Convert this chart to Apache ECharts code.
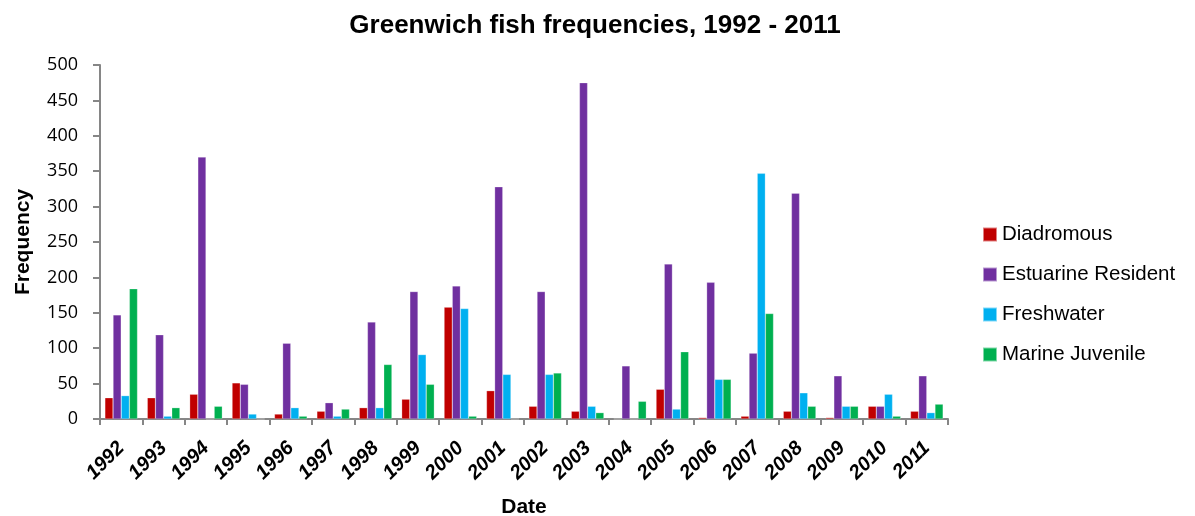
<!DOCTYPE html>
<html>
<head>
<meta charset="utf-8">
<script src="https://cdn.jsdelivr.net/npm/echarts@6/dist/echarts.min.js"></script>
<style>html,body{margin:0;padding:0;background:#fff;}#c{width:1195px;height:516px;}</style>
</head>
<body>
<div id="c"></div>
<script>
const years = ['1992','1993','1994','1995','1996','1997','1998','1999','2000','2001','2002','2003','2004','2005','2006','2007','2008','2009','2010','2011'];
const diadromous = [30,30,35,51,7,11,16,28,158,40,18,11,0,42,2,4,11,2,18,11];
const estuarine = [147,119,370,49,107,23,137,180,188,328,180,475,75,219,193,93,319,61,18,61];
const freshwater = [33,4,0,7,16,4,16,91,156,63,63,18,0,14,56,347,37,18,35,9];
const marineJuv = [184,16,18,0,4,14,77,49,4,0,65,9,25,95,56,149,18,18,4,21];
const yTicks = [0,50,100,150,200,250,300,350,400,450,500];

const names = ['Diadromous','Estuarine Resident','Freshwater','Marine Juvenile'];
const colors = ['#C00000','#7030A0','#00B0F0','#00B050'];
const data = [diadromous, estuarine, freshwater, marineJuv];

const chart = echarts.init(document.getElementById('c'), null, {renderer:'canvas'});
chart.setOption({
  animation: false,
  backgroundColor: '#ffffff',
  title: {
    text: 'Greenwich fish frequencies, 1992 - 2011',
    left: 590, top: 8, textAlign: 'center',
    textStyle: {fontFamily: 'Liberation Sans, Arial', fontSize: 26, fontWeight: 'bold', color: '#000'}
  },
  legend: {
    orient: 'vertical', left: 977, top: 219, itemGap: 19,
    itemWidth: 14, itemHeight: 14, icon: 'rect',
    textStyle: {fontFamily: 'Liberation Sans, Arial', fontSize: 20.5, lineHeight: 20, color: '#000'},
    data: names
  },
  grid: {left: 100, right: 247, top: 65, bottom: 97, containLabel: false, outerBoundsMode: 'none'},
  xAxis: {
    type: 'category', data: years,
    name: 'Date', nameLocation: 'middle', nameGap: 78,
    nameTextStyle: {fontFamily: 'Liberation Sans, Arial', fontSize: 21, fontWeight: 'bold', color: '#000'},
    axisLine: {lineStyle: {color: '#868686', width: 2}},
    axisTick: {show: true, length: 6, lineStyle: {color: '#868686', width: 2}},
    axisLabel: {rotate: 45, interval: 0, margin: 26, fontFamily: 'Liberation Sans, Arial', fontSize: 20, fontWeight: 'bold', fontStyle: 'italic', color: '#000'}
  },
  yAxis: {
    type: 'value', min: 0, max: 500, interval: 50,
    name: 'Frequency', nameLocation: 'middle', nameGap: 66, nameRotate: 90,
    nameTextStyle: {fontFamily: 'Liberation Sans, Arial', fontSize: 21, fontWeight: 'bold', color: '#000'},
    axisLine: {show: true, lineStyle: {color: '#868686', width: 2}},
    axisTick: {show: true, length: 7, lineStyle: {color: '#868686', width: 2}},
    splitLine: {show: false},
    axisLabel: {margin: 22, fontFamily: 'Open Sans, Liberation Sans', fontSize: 18, color: '#000',
      formatter: v => yTicks.includes(v) ? String(v) : ''}
  },
  series: names.map((n, i) => ({
    name: n, type: 'bar', data: data[i],
    barGap: '0%', barCategoryGap: '23%',
    itemStyle: {color: colors[i], borderColor: 'rgba(255,255,255,0.5)', borderWidth: 0.5}
  }))
});
</script>
</body>
</html>
